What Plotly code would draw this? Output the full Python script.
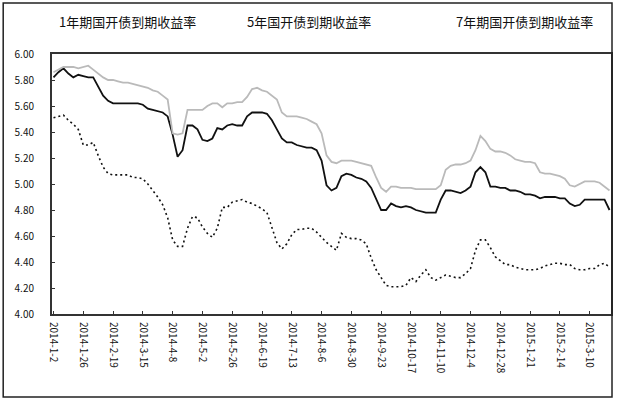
import pandas as pd
import plotly.graph_objects as go

dates = pd.date_range("2014-01-02", periods=113, freq="4D")
categories = [f"{d.year}-{d.month}-{d.day}" for d in dates]

series_names = ["1年期国开债到期收益率", "5年国开债到期收益率", "7年期国开债到期收益率"]

y1 = [5.51, 5.52, 5.53, 5.49, 5.46, 5.42, 5.30, 5.30, 5.32, 5.22,
      5.13, 5.08, 5.07, 5.07, 5.07, 5.07, 5.05, 5.05, 5.04, 5.00,
      4.95, 4.90, 4.84, 4.74, 4.57, 4.52, 4.52, 4.66, 4.75, 4.74,
      4.67, 4.62, 4.59, 4.66, 4.82, 4.82, 4.86, 4.87, 4.88, 4.86,
      4.85, 4.83, 4.81, 4.78, 4.66, 4.55, 4.50, 4.54, 4.61, 4.65,
      4.65, 4.66, 4.66, 4.63, 4.59, 4.55, 4.52, 4.49, 4.62, 4.59,
      4.58, 4.58, 4.57, 4.54, 4.43, 4.34, 4.28, 4.22, 4.21, 4.21,
      4.21, 4.22, 4.28, 4.25, 4.30, 4.34, 4.28, 4.26, 4.28, 4.30,
      4.29, 4.28, 4.28, 4.31, 4.35, 4.49, 4.57, 4.57, 4.51, 4.44,
      4.41, 4.38, 4.38, 4.36, 4.35, 4.34, 4.34, 4.34, 4.35, 4.37,
      4.38, 4.39, 4.39, 4.38, 4.38, 4.35, 4.34, 4.34, 4.35, 4.35,
      4.38, 4.39, 4.36]

y5 = [5.82, 5.86, 5.89, 5.85, 5.82, 5.84, 5.83, 5.82, 5.82, 5.75,
      5.68, 5.64, 5.62, 5.62, 5.62, 5.62, 5.62, 5.62, 5.61, 5.58,
      5.57, 5.56, 5.55, 5.52, 5.38, 5.21, 5.26, 5.45, 5.45, 5.42,
      5.34, 5.33, 5.35, 5.43, 5.42, 5.45, 5.46, 5.45, 5.45, 5.52,
      5.55, 5.55, 5.55, 5.54, 5.49, 5.42, 5.35, 5.32, 5.32, 5.30,
      5.29, 5.28, 5.28, 5.26, 5.18, 4.99, 4.95, 4.97, 5.06, 5.08,
      5.07, 5.05, 5.04, 5.02, 4.97, 4.89, 4.80, 4.80, 4.85, 4.83,
      4.82, 4.83, 4.82, 4.80, 4.79, 4.78, 4.78, 4.78, 4.88, 4.95,
      4.95, 4.94, 4.93, 4.95, 4.98, 5.09, 5.13, 5.09, 4.98, 4.98,
      4.97, 4.97, 4.95, 4.95, 4.94, 4.92, 4.92, 4.91, 4.89, 4.90,
      4.90, 4.90, 4.89, 4.89, 4.85, 4.83, 4.84, 4.88, 4.88, 4.88,
      4.88, 4.88, 4.80]

y7 = [5.86, 5.88, 5.90, 5.90, 5.90, 5.89, 5.90, 5.91, 5.88, 5.85,
      5.82, 5.80, 5.80, 5.79, 5.78, 5.78, 5.77, 5.76, 5.75, 5.74,
      5.72, 5.71, 5.68, 5.65, 5.39, 5.38, 5.39, 5.57, 5.57, 5.57,
      5.57, 5.60, 5.62, 5.62, 5.59, 5.62, 5.62, 5.63, 5.63, 5.67,
      5.73, 5.74, 5.72, 5.71, 5.68, 5.65, 5.55, 5.52, 5.52, 5.52,
      5.51, 5.50, 5.48, 5.46, 5.39, 5.22, 5.17, 5.16, 5.18, 5.18,
      5.18, 5.17, 5.16, 5.15, 5.14, 5.05, 4.97, 4.94, 4.98, 4.98,
      4.97, 4.97, 4.97, 4.96, 4.96, 4.96, 4.96, 4.96, 4.99, 5.11,
      5.14, 5.15, 5.15, 5.16, 5.18, 5.26, 5.37, 5.33, 5.27, 5.25,
      5.25, 5.24, 5.22, 5.19, 5.18, 5.17, 5.17, 5.16, 5.09, 5.08,
      5.08, 5.07, 5.06, 5.04, 4.99, 4.98, 5.00, 5.02, 5.02, 5.02,
      5.01, 4.98, 4.95]

y_ticks = [4.0, 4.2, 4.4, 4.6, 4.8, 5.0, 5.2, 5.4, 5.6, 5.8, 6.0]
tick_step = 6
x_ticks = categories[::tick_step]

FONT = "Noto Sans CJK SC"

fig = go.Figure()
fig.add_trace(go.Scatter(x=categories, y=y1, mode="lines", name=series_names[0],
                         line=dict(color="#111111", width=1.6, dash="2px,3px")))
fig.add_trace(go.Scatter(x=categories, y=y5, mode="lines", name=series_names[1],
                         line=dict(color="#111111", width=1.8)))
fig.add_trace(go.Scatter(x=categories, y=y7, mode="lines", name=series_names[2],
                         line=dict(color="#bababa", width=1.8)))

# legend as plain text (no samples), as in the reference
leg_x = [0.135, 0.46, 0.845]
for name, lx in zip(series_names, leg_x):
    fig.add_annotation(text=name, xref="paper", yref="paper", x=lx, y=1.125,
                       xanchor="center", yanchor="middle",
                       showarrow=False, font=dict(family=FONT, size=13, color="#111"))

# outer frame around whole chart
fig.add_shape(type="rect", xref="paper", yref="paper",
              x0=-0.0873, x1=1.0018, y0=-0.319, y1=1.196,
              line=dict(color="#222", width=1.5))

fig.update_layout(
    width=617, height=401,
    margin=dict(l=52, r=4, t=54, b=87),
    paper_bgcolor="white", plot_bgcolor="white",
    showlegend=False,
    font=dict(family=FONT, size=10, color="#111"),
)
fig.update_xaxes(type="category", tickmode="array", tickvals=x_ticks, ticktext=x_ticks,
                 tickangle=90, showline=True, linecolor="#333", linewidth=2, mirror=True,
                 ticks="inside", ticklen=3, tickcolor="#333", showgrid=False,
                 range=[-0.3, len(categories) - 0.7], tickfont=dict(size=10),
                 ticklabelstandoff=4)
fig.update_yaxes(range=[4.0, 6.0], tickmode="array", tickvals=y_ticks,
                 ticktext=[f"{v:.2f}" for v in y_ticks],
                 showline=True, linecolor="#333", linewidth=2, mirror=True,
                 ticks="inside", ticklen=3, tickcolor="#333", showgrid=False,
                 zeroline=False, tickfont=dict(size=10), ticklabelstandoff=14)

fig.write_html("out.html", config={"displayModeBar": False},
               post_script="document.body.style.margin='0';")
